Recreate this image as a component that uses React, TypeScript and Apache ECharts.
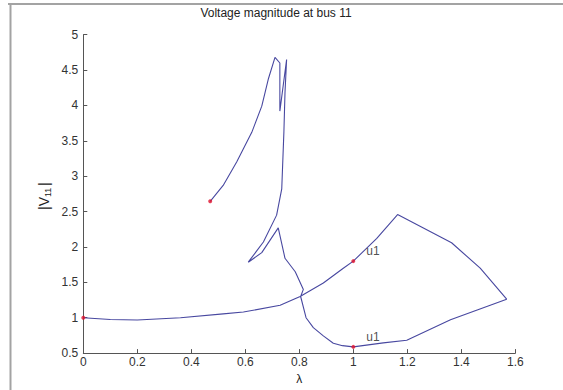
import React, { useEffect, useRef } from "react";
import * as echarts from "echarts";

// continuation curve: lambda and |V11|
const lambdaVals = [
  0.47, 0.518, 0.568, 0.624, 0.661, 0.685, 0.71, 0.728, 0.728, 0.753, 0.747, 0.743,
  0.735, 0.716, 0.667, 0.611, 0.661, 0.722, 0.747, 0.785, 0.815, 0.805, 0.825, 0.852,
  0.889, 0.926, 0.96, 1.0, 1.111, 1.198, 1.36, 1.568, 1.47, 1.364, 1.164, 1.087, 1.0,
  0.963, 0.889, 0.803, 0.729, 0.593, 0.518, 0.36, 0.2, 0.1, 0.0,
];
const vVals = [
  2.645, 2.87, 3.2, 3.62, 3.99, 4.37, 4.68, 4.6, 3.92, 4.65, 4.18, 3.63,
  2.82, 2.45, 2.07, 1.785, 1.92, 2.27, 1.84, 1.65, 1.4, 1.3, 1.0, 0.86,
  0.743, 0.64, 0.605, 0.588, 0.645, 0.681, 0.97, 1.262, 1.7, 2.06, 2.458, 2.12, 1.8,
  1.7, 1.49, 1.3, 1.177, 1.08, 1.055, 1.0, 0.967, 0.975, 1.0,
];
const markLambda = [0, 1, 1, 0.47];
const markV = [1.0, 1.8, 0.588, 2.645];
const markLabels = ["", "u1", "u1", ""];

const xTicks = { min: 0, max: 1.6, interval: 0.2 };
const yTicks = { min: 0.5, max: 5, interval: 0.5 };

export default function App() {
  const ref = useRef<HTMLDivElement>(null);
  useEffect(() => {
    if (!ref.current) return;
    const chart = echarts.init(ref.current, undefined, { renderer: "svg" });
    const font = "Liberation Sans, Arial, sans-serif";
    const fmt = (v: number) => String(+v.toFixed(1));
    chart.setOption({
      animation: false,
      backgroundColor: "#ffffff",
      grid: { left: 83.3, right: 47.7, top: 34.7, bottom: 34.4 },
      xAxis: {
        type: "value",
        min: xTicks.min,
        max: xTicks.max,
        interval: xTicks.interval,
        name: "λ",
        nameLocation: "middle",
        nameGap: 17,
        nameTextStyle: { fontFamily: font, fontSize: 12, color: "#222" },
        axisLine: { show: true, onZero: false, lineStyle: { color: "#555", width: 1 } },
        axisTick: { show: true, inside: true, length: 4, lineStyle: { color: "#555" } },
        axisLabel: { formatter: fmt, fontFamily: font, fontSize: 12, color: "#333", margin: 3 },
        splitLine: { show: false },
      },
      yAxis: {
        type: "value",
        min: yTicks.min,
        max: yTicks.max,
        interval: yTicks.interval,
        axisLine: { show: true, onZero: false, lineStyle: { color: "#555", width: 1 } },
        axisTick: { show: true, inside: true, length: 4, lineStyle: { color: "#555" } },
        axisLabel: { formatter: fmt, fontFamily: font, fontSize: 12, color: "#333", margin: 5 },
        splitLine: { show: false },
      },
      series: [
        {
          type: "line",
          data: lambdaVals.map((x, i) => [x, vVals[i]]),
          showSymbol: false,
          symbol: "none",
          smooth: false,
          lineStyle: { color: "#4848a0", width: 1.1 },
          z: 2,
        },
        {
          type: "scatter",
          data: markLambda.map((x, i) => ({ value: [x, markV[i]], name: markLabels[i] })),
          symbol: "circle",
          symbolSize: 4,
          itemStyle: { color: "#e0102c" },
          label: {
            show: true,
            position: "right",
            distance: 5,
            offset: [6, -10],
            formatter: (p: any) => p.name,
            fontFamily: font,
            fontSize: 12,
            color: "#222",
          },
          z: 3,
        },
      ],
      graphic: [
        {
          type: "line",
          shape: { x1: 8, y1: 4, x2: 563, y2: 4 },
          style: { stroke: "#a3a3a3", lineWidth: 2 },
        },
        {
          type: "line",
          shape: { x1: 10.5, y1: 3, x2: 10.5, y2: 390 },
          style: { stroke: "#a3a3a3", lineWidth: 2 },
        },
        {
          type: "text",
          x: 276,
          y: 12.5,
          style: {
            text: "Voltage magnitude at bus 11",
            fontFamily: font,
            fontSize: 12,
            fill: "#222",
            align: "center",
            verticalAlign: "middle",
          },
        },
        {
          type: "group",
          x: 44,
          y: 194,
          rotation: Math.PI / 2,
          children: [
            {
              type: "text",
              x: -16,
              y: 0,
              style: { text: "|V", fontFamily: font, fontSize: 14, fill: "#222", align: "left", verticalAlign: "middle" },
            },
            {
              type: "text",
              x: -3,
              y: 4,
              style: { text: "11", fontFamily: font, fontSize: 9, fill: "#222", align: "left", verticalAlign: "middle" },
            },
            {
              type: "text",
              x: 8,
              y: 0,
              style: { text: "|", fontFamily: font, fontSize: 14, fill: "#222", align: "left", verticalAlign: "middle" },
            },
          ],
        },
      ],
    });
    return () => chart.dispose();
  }, []);
  return (
    <div
      ref={ref}
      style={{ position: "fixed", left: 0, top: 0, width: 563, height: 390 }}
    />
  );
}
